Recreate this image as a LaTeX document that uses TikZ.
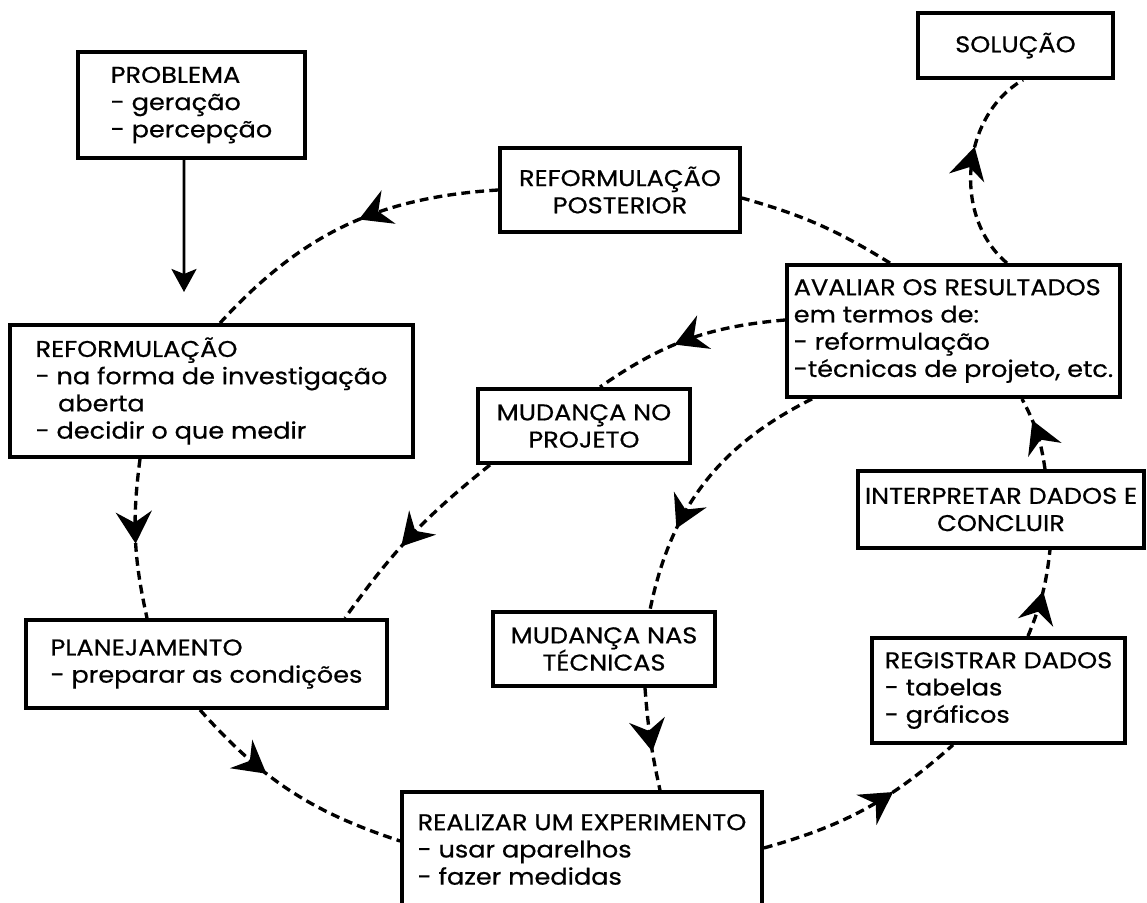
\documentclass[tikz,border=0pt]{standalone}
\usepackage{fontspec}
\setmainfont{Poppins}[FakeStretch=1.12,FakeBold=0.6]
\usetikzlibrary{arrows.meta,decorations.markings}

\tikzset{
  caixa/.style={draw, line width=2.2pt, align=left, inner sep=0pt, font=\fontsize{13}{15.5}\selectfont},
  tracejado/.style={line width=1.9pt, dash pattern=on 5pt off 3pt},
  seta/.style={tracejado, decoration={markings, mark=at position #1 with {\arrow{Stealth[length=0.64cm,width=0.72cm,inset=0.22cm]}}}, postaction={decorate}}
}

\begin{document}
\begin{tikzpicture}[x=0.02cm,y=0.02cm]
        \useasboundingbox (0,0) rectangle (1147,903);
        % Boxes
        \node[caixa, minimum width=4.54cm, minimum height=2.12cm] (prob) at (191.5,798) {PROBLEMA\\- geração\\- percepção};
        \node[caixa, align=center, minimum width=4.8cm, minimum height=1.68cm] (post) at (620,713) {REFORMULAÇÃO\\POSTERIOR};
        \node[caixa, align=center, minimum width=3.9cm, minimum height=1.3cm] (sol) at (1015.5,857.5) {SOLUÇÃO};
        \node[caixa, minimum width=6.66cm, minimum height=2.64cm] (aval) at (953.5,572) {AVALIAR OS RESULTADOS\\em termos de:\\- reformulação\\-técnicas de projeto, etc.};
        \node[caixa, minimum width=8.06cm, minimum height=2.64cm] (ref) at (211.5,512) {REFORMULAÇÃO\\- na forma de investigação\\\hspace*{0.45cm}aberta\\- decidir o que medir};
        \node[caixa, align=center, minimum width=4.24cm, minimum height=1.48cm] (mproj) at (584,477) {MUDANÇA NO\\PROJETO};
        \node[caixa, align=center, minimum width=5.72cm, minimum height=1.54cm] (interp) at (1001,393.5) {INTERPRETAR DADOS E\\CONCLUIR};
        \node[caixa, minimum width=7.22cm, minimum height=1.76cm] (plan) at (206.5,239) {PLANEJAMENTO\\- preparar as condições};
        \node[caixa, align=center, minimum width=4.44cm, minimum height=1.48cm] (mtec) at (604,254) {MUDANÇA NAS\\TÉCNICAS};
        \node[caixa, minimum width=7.2cm, minimum height=2.3cm] (real) at (582,53.5) {REALIZAR UM EXPERIMENTO\\- usar aparelhos\\- fazer medidas};
        \node[caixa, minimum width=5.06cm, minimum height=2.1cm] (reg) at (998.5,212.5) {REGISTRAR DADOS\\- tabelas\\- gráficos};
        \coordinate (fimprob) at (184,611);
        % Solid arrow
        \draw[-{Stealth[length=0.46cm,width=0.5cm,inset=0.1cm]},line width=1.7pt] ([xshift=-0.15cm]prob.south) -- (fimprob);
        % Outer cycle
        \draw[tracejado] ([xshift=-1.27cm]aval.north) to[bend right=8] ([yshift=-0.16cm]post.east);
        \draw[seta=0.45] (post.west) to[bend right=22] ([xshift=0.17cm]ref.north);
        \draw[seta=0.53] ([xshift=-1.43cm]ref.south) to[bend right=10] ([xshift=-1.19cm]plan.north);
        \draw[seta=0.38] ([xshift=-0.13cm]plan.south) to[bend right=15] ([yshift=0.17cm]real.west);
        \draw[seta=0.65] ([yshift=0.03cm]real.east) to[bend right=13] ([xshift=-0.91cm]reg.south);
        \draw[seta=0.53] ([xshift=0.59cm]reg.north) to[bend right=8] ([xshift=0.98cm]interp.south);
        \draw[seta=0.68] ([xshift=0.88cm]interp.north) to[bend right=10] ([xshift=1.37cm]aval.south);
        \draw[seta=0.6] ([xshift=1.07cm]aval.north) to[bend left=55] ([xshift=0.15cm]sol.south);
        % Inner loops
        \draw[seta=0.57] ([yshift=0.22cm]aval.west) to[bend right=15] ([xshift=0.32cm]mproj.north);
        \draw[seta=0.57] ([xshift=-1.88cm]mproj.south) to[bend right=8] ([xshift=2.77cm]plan.north);
        \draw[seta=0.69] ([xshift=-2.83cm]aval.south) to[bend right=26] ([xshift=0.92cm]mtec.north);
        \draw[seta=0.62] ([xshift=0.82cm]mtec.south) to[bend right=4] ([xshift=1.56cm]real.north);
\end{tikzpicture}
\end{document}
